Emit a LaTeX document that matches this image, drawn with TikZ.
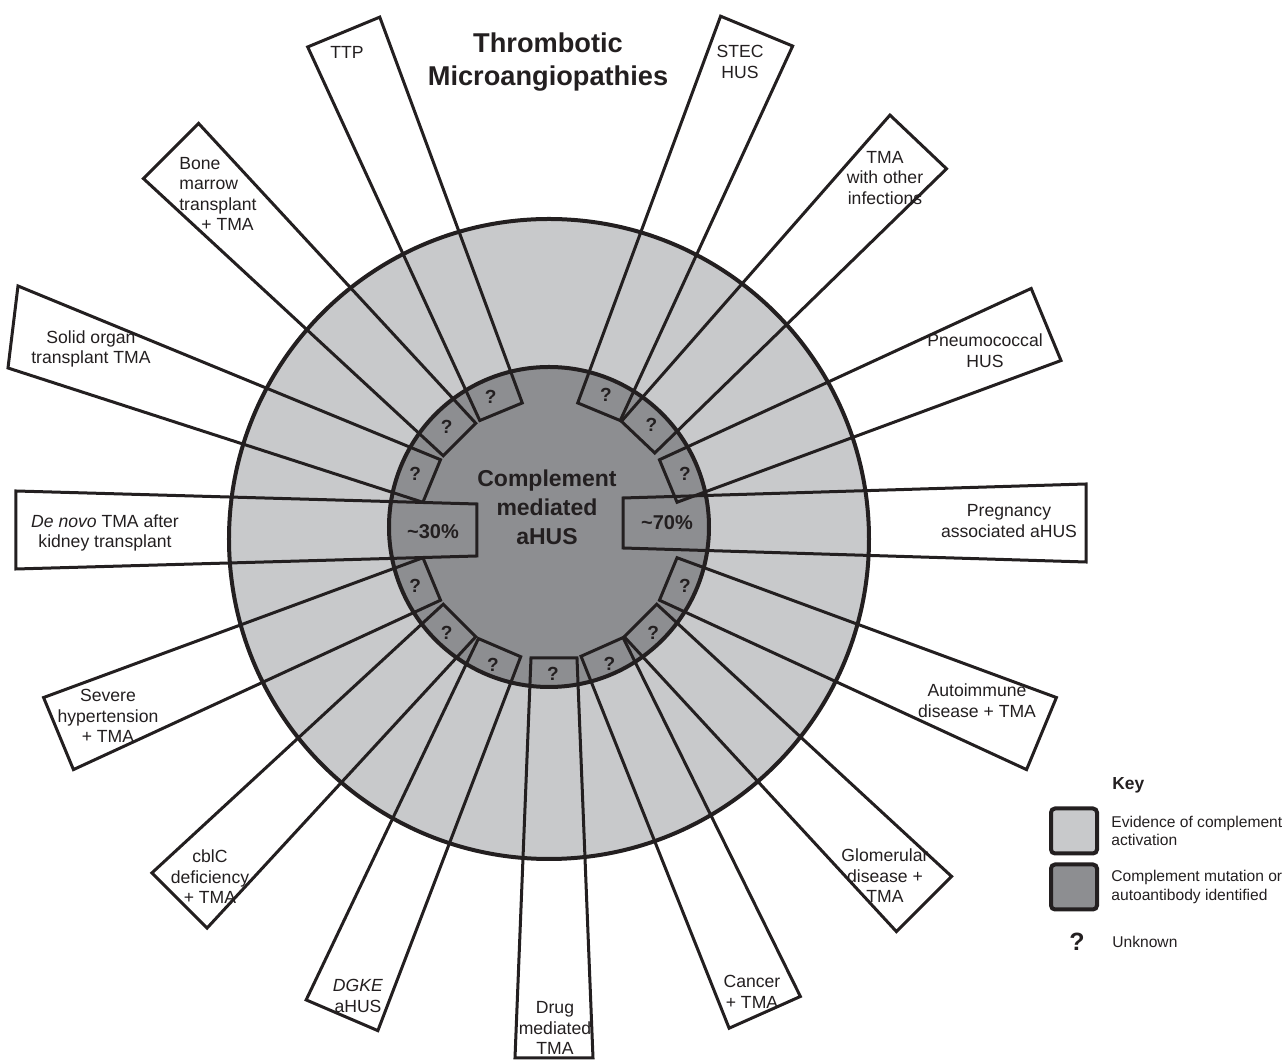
\documentclass[tikz,border=0pt]{standalone}
\usepackage{fontspec}
\setmainfont{Liberation Sans}
\usetikzlibrary{positioning}
\definecolor{ringlight}{HTML}{C8C9CB}
\definecolor{ringdark}{HTML}{8D8E91}
\definecolor{inkline}{HTML}{231F20}
\tikzset{
  spk/.style={draw=inkline, line width=1.5pt, line join=miter},
  rimline/.style={draw=inkline, line width=2pt},
  lbl/.style={align=center, text=inkline, font=\fontsize{8.8}{10.3}\selectfont, inner sep=0pt},
  qmark/.style={text=inkline, font=\bfseries\fontsize{9.5}{11}\selectfont, inner sep=0pt},
  pct/.style={text=inkline, font=\bfseries\fontsize{10}{12}\selectfont, inner sep=0pt},
  keybox/.style={draw=inkline, line width=2pt, rounded corners=2pt, minimum width=23pt, minimum height=22.5pt, inner sep=0pt},
  keytxt/.style={align=left, anchor=west, text=inkline, font=\fontsize{7.8}{9.4}\selectfont, inner sep=0pt}
}
\begin{document}
\begin{tikzpicture}[x=0.5pt, y=0.5pt]
\useasboundingbox (-550,-533) rectangle (735,530);
% rings
\filldraw[rimline, fill=ringlight] (-1,-9) circle (320);
\filldraw[rimline, fill=ringdark] (-1,3) circle (160);
% spokes
\draw[spk, rotate=112.5] (128,-23) -- (539,-39) -- (539,39) -- (128,23) -- cycle;
\draw[spk, rotate=67.5] (128,-23) -- (540,-39) -- (540,39) -- (128,23) -- cycle;
\draw[spk, rotate=46.5] (128,-23) -- (535,-39) -- (535,39) -- (128,23) -- cycle;
\draw[spk, rotate=22.5] (128,-23) -- (537,-39) -- (537,39) -- (128,23) -- cycle;
\draw[spk, shift={(0,7)}] (73,-25) -- (536,-39) -- (536,39) -- (73,25) -- cycle;
\draw[spk, rotate=-22.5] (128,-23) -- (532,-39) -- (532,39) -- (128,23) -- cycle;
\draw[spk, rotate=-45] (128,-23) -- (529,-39) -- (529,39) -- (128,23) -- cycle;
\draw[spk, rotate=-66] (128,-23) -- (528,-39) -- (528,39) -- (128,23) -- cycle;
\draw[spk, shift={(4,0)}, rotate=-90] (128,-23) -- (528,-39) -- (528,39) -- (128,23) -- cycle;
\draw[spk, rotate=-113.2] (128,-23) -- (528,-39) -- (528,39) -- (128,23) -- cycle;
\draw[spk, rotate=-135] (128,-23) -- (524,-39) -- (524,39) -- (128,23) -- cycle;
\draw[spk, rotate=-157.5] (128,-23) -- (532,-39) -- (532,39) -- (128,23) -- cycle;
\draw[spk, rotate=180] (73,-26) -- (534,-39) -- (534,39) -- (73,26) -- cycle;
\draw[spk] (-109.5,70.3) -- (-532,244) -- (-542,162) -- (-127.1,27.7) -- cycle;
\draw[spk, rotate=135] (128,-23) -- (536,-39) -- (536,39) -- (128,23) -- cycle;
% unknown marks
\node[qmark] (q1) at (114:146) {?};    \node[qmark] (q2) at (67.5:146) {?};
\node[qmark] (q3) at (46:146) {?};     \node[qmark] (q4) at (22.5:146) {?};
\node[qmark] (q5) at (-22.5:146) {?};  \node[qmark] (q6) at (-45:146) {?};
\node[qmark] (q7) at (-66:146) {?};    \node[qmark] (q8) at (3,-144) {?};
\node[qmark] (q9) at (-113:146) {?};   \node[qmark] (q10) at (-135:146) {?};
\node[qmark] (q11) at (-157.5:146) {?};\node[qmark] (q12) at (157.5:146) {?};
\node[qmark] (q13) at (135:146) {?};
\node[pct] (p30) at (-117,-2) {\textasciitilde30\%};
\node[pct] (p70) at (117,7) {\textasciitilde70\%};
% centre and title
\node[align=center, text=inkline, font=\bfseries\fontsize{11.5}{14.5}\selectfont] (core) at (-3,23) {Complement\\mediated\\aHUS};
\node[align=center, text=inkline, font=\bfseries\fontsize{13.6}{16.5}\selectfont] (title) at (-2,468) {Thrombotic\\Microangiopathies};
% spoke labels
\node[lbl] (ttp) at (-203,478) {TTP};
\node[lbl] (stec) at (190,468) {STEC\\HUS};
\node[lbl] (infect) at (335,352) {TMA\\with other\\infections};
\node[lbl] (pneumo) at (435,179) {Pneumococcal\\HUS};
\node[lbl] (preg) at (459,9) {Pregnancy\\associated aHUS};
\node[lbl] (autoimm) at (427,-171) {Autoimmune\\disease + TMA};
\node[lbl] (glom) at (335,-346) {Glomerular\\disease +\\TMA};
\node[lbl] (cancer) at (202,-462) {Cancer\\+ TMA};
\node[lbl] (drug) at (5,-498) {Drug\\mediated\\TMA};
\node[lbl] (dgke) at (-192,-466) {\textit{DGKE}\\aHUS};
\node[lbl] (cblc) at (-340,-347) {cblC\\deficiency\\+ TMA};
\node[lbl] (hyper) at (-442,-186) {Severe\\hypertension\\+ TMA};
\node[lbl] (denovo) at (-445,-3) {\textit{De novo} TMA after\\kidney transplant};
\node[lbl] (solid) at (-459,181) {Solid organ\\transplant TMA};
\node[lbl, align=left] (bone) at (-332,336) {Bone\\marrow\\transplant\\\hspace*{11pt}+ TMA};
% key
\node[keytxt, font=\bfseries\fontsize{8.7}{10}\selectfont] (keyhead) at (562,-255) {Key};
\node[keybox, fill=ringlight] (key1) at (524,-301) {};
\node[keybox, fill=ringdark] (key2) at (524,-357) {};
\node[keytxt, right=6pt of key1] (keyt1) {Evidence of complement\\activation};
\node[keytxt, right=6pt of key2] (keyt2) {Complement mutation or\\autoantibody identified};
\node[text=inkline, font=\bfseries\fontsize{12.5}{14}\selectfont, inner sep=0pt] (key3) at (527,-412) {?};
\node[keytxt] (keyt3) at (562,-412) {Unknown};
\end{tikzpicture}
\end{document}
